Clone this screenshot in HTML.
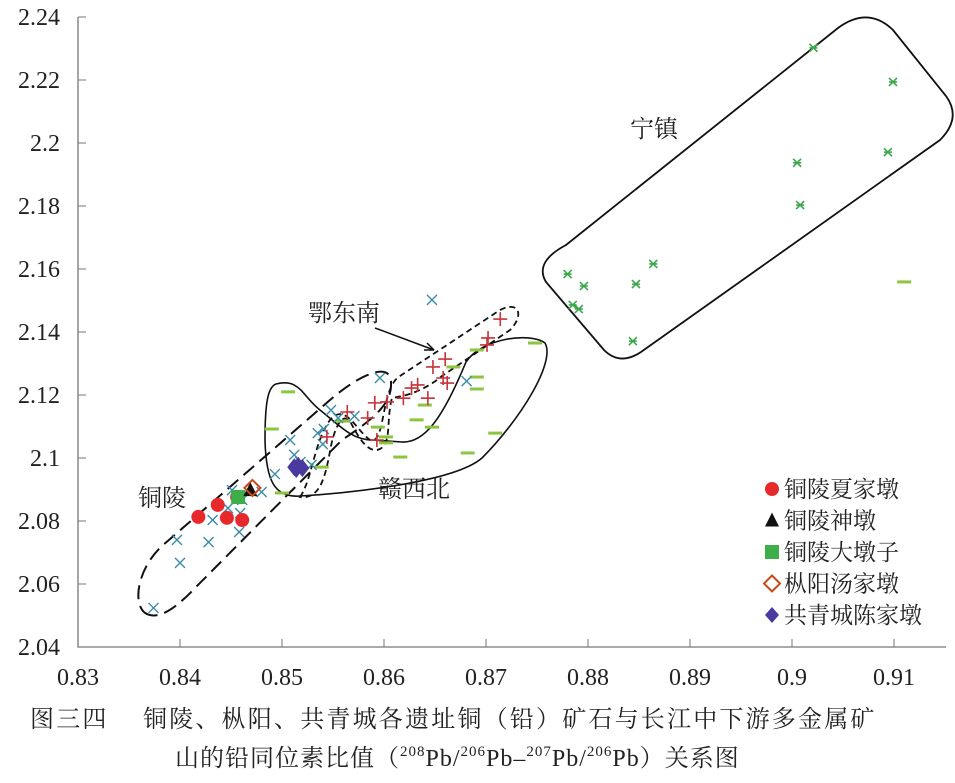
<!DOCTYPE html>
<html><head><meta charset="utf-8"><style>
body{margin:0;background:#fff;width:955px;height:783px;overflow:hidden}
svg{display:block}
text{font-family:"Liberation Serif","Noto Serif CJK SC",serif;fill:#222}
</style></head><body>
<svg id="c" width="955" height="783">
<g id="axes"></g>
<g id="regions" fill="none" stroke="#111">
<path stroke-width="2" stroke-dasharray="14,7" d="M150,615 C132,612 134,572 162,546 L330,400 C360,374 392,360 391,384 C392,404 372,420 342,440 L195,588 C178,606 162,618 150,615 Z"/>
<path stroke-width="1.6" d="M276,384 C300,378 302,396 320,410 C340,426 352,440 372,440 L402,442 C424,443 442,420 466,362 C482,338 530,332 545,343 C556,362 520,420 482,458 C452,484 335,494 300,496 C274,498 266,480 265,440 C265,402 268,387 276,384 Z"/>
<path stroke-width="1.8" stroke-dasharray="6,4" d="M300,497 C312,480 314,442 330,420 C345,402 356,430 370,440 C386,446 380,388 400,376 L500,310 C520,300 524,316 510,330 L442,376 C420,394 402,396 392,398 C386,420 392,442 380,449 C369,454 360,440 352,425 C345,410 336,422 331,446 C326,472 322,500 300,497 Z"/>
<path stroke-width="1.8" d="M566,245 L838,28 Q868,6 893,30 L946,96 Q962,118 940,140 L641,352 Q620,366 604,350 L546,282 Q534,262 566,245 Z"/>
</g>
<g id="marks"></g>
<g font-size="24">
<text x="138" y="506">铜陵</text>
<text x="308" y="321">鄂东南</text>
<path d="M375,328 L434,350" stroke="#111" stroke-width="1.5" fill="none"/>
<path d="M434,350 L424,350 M434,350 L427,343" stroke="#111" stroke-width="1.5"/>
<text x="378" y="497">赣西北</text>
<text x="630" y="137">宁镇</text>
</g>
<g id="legend" font-size="23"></g>
<g font-size="24">
<text x="30" y="727" letter-spacing="2.2">图三四　 铜陵、枞阳、共青城各遗址铜（铅）矿石与长江中下游多金属矿</text>
<text x="175" y="766" letter-spacing="1">山的铅同位素比值（<tspan font-size="15" dy="-10">208</tspan><tspan dy="10">Pb/</tspan><tspan font-size="15" dy="-10">206</tspan><tspan dy="10">Pb–</tspan><tspan font-size="15" dy="-10">207</tspan><tspan dy="10">Pb/</tspan><tspan font-size="15" dy="-10">206</tspan><tspan dy="10">Pb）关系图</tspan></text>
</g>
</svg>
<script>
const xTicks=["0.83","0.84","0.85","0.86","0.87","0.88","0.89","0.9","0.91"];
const xTickVals=[0.83,0.84,0.85,0.86,0.87,0.88,0.89,0.90,0.91];
const yTicks=["2.04","2.06","2.08","2.1","2.12","2.14","2.16","2.18","2.2","2.22","2.24"];
const yTickVals=[2.04,2.06,2.08,2.10,2.12,2.14,2.16,2.18,2.20,2.22,2.24];
const crossX=[0.8374,0.8400,0.8397,0.8428,0.8432,0.8458,0.8459,0.8451,0.8447,0.8461,0.8480,0.8493,0.8508,0.8512,0.8518,0.8529,0.8535,0.8541,0.8540,0.8548,0.8555,0.8571,0.8596,0.8647,0.8681];
const crossY=[2.0524,2.0667,2.0740,2.0733,2.0803,2.0765,2.0825,2.0898,2.0841,2.0867,2.0892,2.0949,2.1057,2.1010,2.0987,2.0978,2.1079,2.1092,2.1044,2.1152,2.1127,2.1133,2.1254,2.1502,2.1244];
const plusX=[0.8714,0.8702,0.8701,0.8660,0.8648,0.8658,0.8662,0.8633,0.8627,0.8619,0.8643,0.8603,0.8591,0.8564,0.8584,0.8544,0.8593];
const plusY=[2.1441,2.1381,2.1359,2.1314,2.1289,2.1254,2.1238,2.1232,2.1222,2.1190,2.1190,2.1178,2.1175,2.1146,2.1127,2.1067,2.1057];
const dashX=[0.8506,0.8490,0.8500,0.8539,0.8560,0.8594,0.8602,0.8602,0.8616,0.8632,0.8647,0.8640,0.8668,0.8691,0.8691,0.8691,0.8709,0.8682,0.8748,0.9110];
const dashY=[2.1210,2.1092,2.0889,2.0971,2.1117,2.1098,2.1067,2.1048,2.1003,2.1121,2.1098,2.1168,2.1289,2.1343,2.1257,2.1219,2.1079,2.1016,2.1365,2.1559];
const starX=[0.9021,0.9099,0.9094,0.9005,0.9008,0.8864,0.8780,0.8796,0.8847,0.8785,0.8791,0.8844];
const starY=[2.2302,2.2194,2.1971,2.1937,2.1803,2.1616,2.1584,2.1546,2.1552,2.1486,2.1473,2.1371];
const circleX=[0.8418,0.8437,0.8446,0.8461,0.8456];
const circleY=[2.0813,2.0851,2.0810,2.0803,2.0876];
const triX=[0.8469],triY=[2.0898];
const squareX=[0.8457],squareY=[2.0876];
const diamondX=[0.8471],diamondY=[2.0905];
const purpleX=[0.8512,0.8516,0.8520,0.8514],purpleY=[2.0971,2.0975,2.0968,2.0965];
const legendLabels=["铜陵夏家墩","铜陵神墩","铜陵大墩子","枞阳汤家墩","共青城陈家墩"];

const NS="http://www.w3.org/2000/svg";
const X=v=>78+(v-0.83)*10200;
const Y=v=>647-(v-2.04)*3150;
function mk(tag,attrs,parent){const e=document.createElementNS(NS,tag);for(const k in attrs)e.setAttribute(k,attrs[k]);parent.appendChild(e);return e;}
const ax=document.getElementById('axes');
let e=mk('path',{d:`M${X(0.83)},${Y(2.24)} L${X(0.83)},${Y(2.04)} L946,${Y(2.04)}`,stroke:'#777','stroke-width':1.3,fill:'none'},ax);


xTickVals.forEach((v,i)=>{
 let t=mk('line',{x1:X(v),x2:X(v),y1:Y(2.04),y2:Y(2.04)-8,stroke:'#777'},ax);
 
 
 let l=mk('text',{x:X(v),y:685,'text-anchor':'middle','font-size':24},ax);l.textContent=xTicks[i];
 
 
});
yTickVals.forEach((v,i)=>{
 let t=mk('line',{x1:X(0.83),x2:X(0.83)+8,y1:Y(v),y2:Y(v),stroke:'#777'},ax);
 
 
 let l=mk('text',{x:60,y:Y(v)+8,'text-anchor':'end','font-size':24},ax);l.textContent=yTicks[i];
 
 
});
const mg=document.getElementById('marks');
dashX.forEach((v,i)=>{let m=mk('rect',{x:X(v)-7,y:Y(dashY[i])-1.5,width:14,height:3,fill:'#8cc63f'},mg);
 
 });
crossX.forEach((v,i)=>{const x=X(v),y=Y(crossY[i]);let m=mk('path',{d:`M${x-5},${y-5}L${x+5},${y+5}M${x-5},${y+5}L${x+5},${y-5}`,stroke:'#3a8aa8','stroke-width':1.4},mg);
 
 });
plusX.forEach((v,i)=>{const x=X(v),y=Y(plusY[i]);let m=mk('path',{d:`M${x-7},${y}L${x+7},${y}M${x},${y-7}L${x},${y+7}`,stroke:'#c8323a','stroke-width':1.6},mg);
 
 });
starX.forEach((v,i)=>{const x=X(v),y=Y(starY[i]);let m=mk('path',{d:`M${x-4},${y-4}L${x+4},${y+4}M${x-4},${y+4}L${x+4},${y-4}M${x-4},${y}L${x+4},${y}`,stroke:'#3aa84a','stroke-width':1.6},mg);
 
 });
circleX.forEach((v,i)=>{let m=mk('circle',{cx:X(v),cy:Y(circleY[i]),r:7,fill:'#e8292b'},mg);
 
 });
squareX.forEach((v,i)=>{let m=mk('rect',{x:X(v)-7,y:Y(squareY[i])-7,width:14,height:14,fill:'#3dae49'},mg);
 
 });
triX.forEach((v,i)=>{const x=X(v),y=Y(triY[i]);let m=mk('path',{d:`M${x},${y-8}L${x+7},${y+6}L${x-7},${y+6}Z`,fill:'#111'},mg);
 
 });
diamondX.forEach((v,i)=>{const x=X(v),y=Y(diamondY[i]);let m=mk('path',{d:`M${x},${y-8}L${x+8},${y}L${x},${y+8}L${x-8},${y}Z`,fill:'none',stroke:'#c84a1a','stroke-width':2},mg);
 
 });
purpleX.forEach((v,i)=>{const x=X(v),y=Y(purpleY[i]);let m=mk('path',{d:`M${x},${y-9}L${x+7},${y}L${x},${y+9}L${x-7},${y}Z`,fill:'#4a3aa0'},mg);
 
 });
const lg=document.getElementById('legend');
legendLabels.forEach((s,i)=>{const y=489+i*31.5,x=772;let m;
 if(i==0)m=mk('circle',{cx:x,cy:y,r:7,fill:'#e8292b'},lg);
 if(i==1)m=mk('path',{d:`M${x},${y-8}L${x+7},${y+6}L${x-7},${y+6}Z`,fill:'#111'},lg);
 if(i==2)m=mk('rect',{x:x-7,y:y-7,width:14,height:14,fill:'#3dae49'},lg);
 if(i==3)m=mk('path',{d:`M${x},${y-8}L${x+8},${y}L${x},${y+8}L${x-8},${y}Z`,fill:'none',stroke:'#c84a1a','stroke-width':2},lg);
 if(i==4)m=mk('path',{d:`M${x},${y-8}L${x+7},${y}L${x},${y+8}L${x-7},${y}Z`,fill:'#4a3aa0'},lg);
 
 
 let t=mk('text',{x:784,y:y+8},lg);t.textContent=s;
 
 
});
</script>
</body></html>
